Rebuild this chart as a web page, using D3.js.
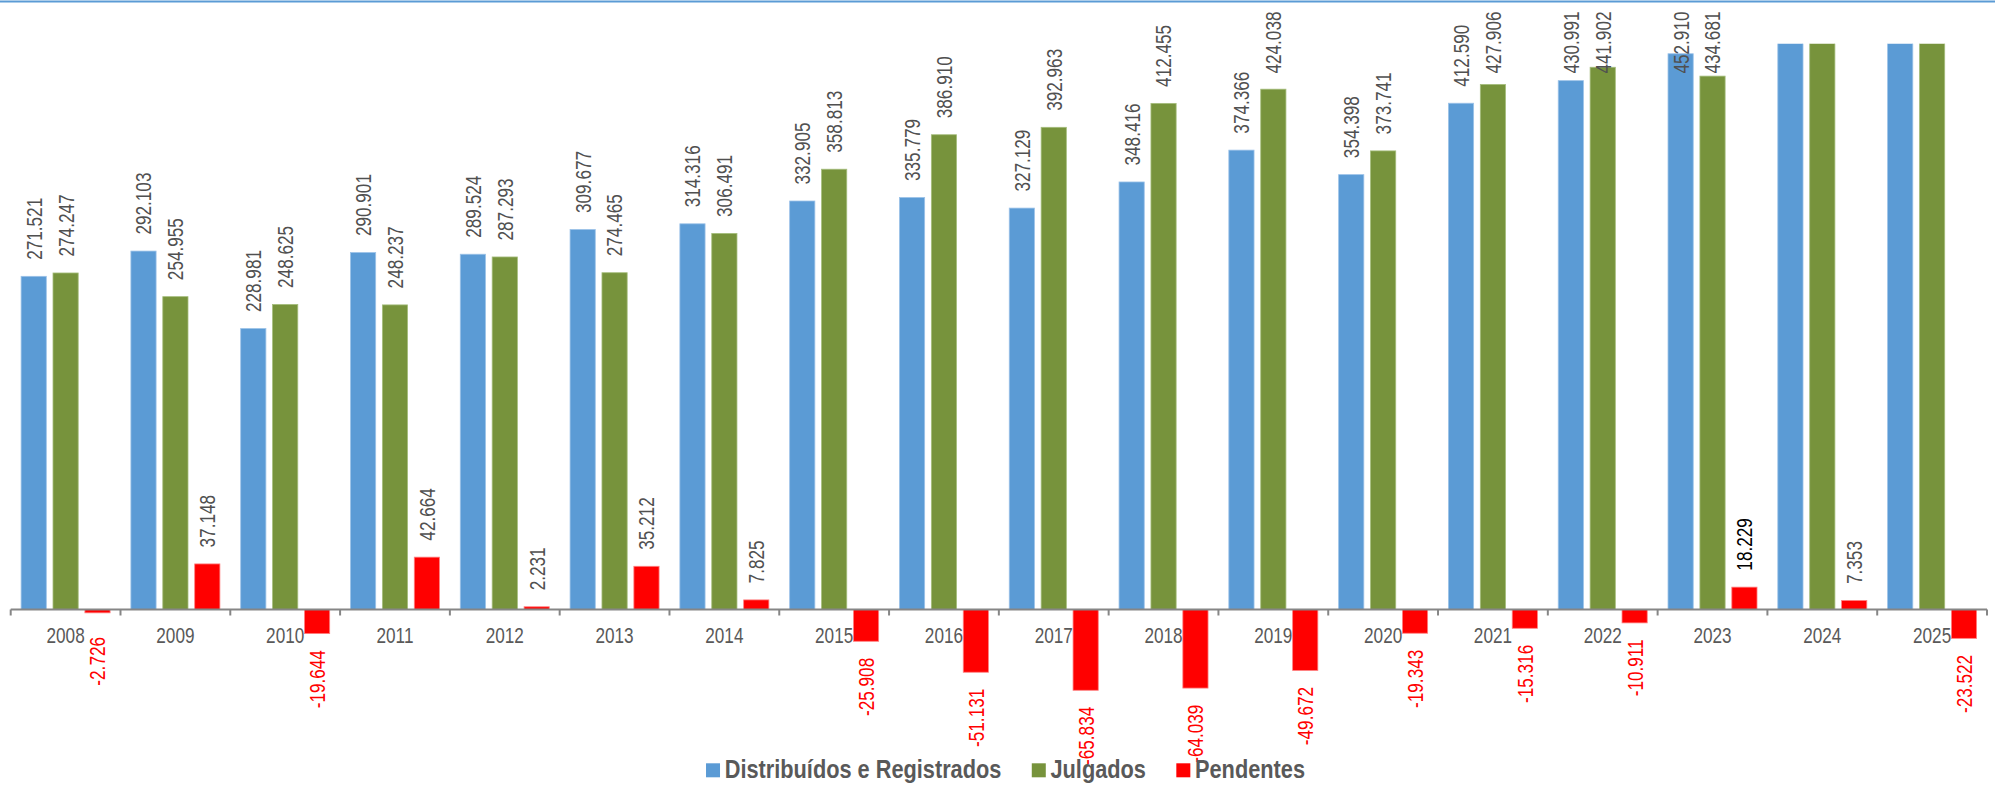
<!DOCTYPE html>
<html>
<head>
<meta charset="utf-8">
<script src="https://cdn.jsdelivr.net/npm/d3@7"></script>
<style>
  html, body { margin: 0; padding: 0; background: #fff; }
  svg { display: block; }
  text { font-family: 'Liberation Sans', Arial, sans-serif; }
</style>
</head>
<body>
<svg id="chart" width="1995" height="786"></svg>
<script>
// ---- data ----
const years = ["2008","2009","2010","2011","2012","2013","2014","2015","2016","2017","2018","2019","2020","2021","2022","2023","2024","2025"];
const seriesNames = ["Distribuídos e Registrados", "Julgados", "Pendentes"];
// 2024 and 2025 Distribuídos/Julgados exceed the chart's top and are cut off (values estimated)
const distribuidos = [271521, 292103, 228981, 290901, 289524, 309677, 314316, 332905, 335779, 327129, 348416, 374366, 354398, 412590, 430991, 452910, 489118, 482906];
const julgados     = [274247, 254955, 248625, 248237, 287293, 274465, 306491, 358813, 386910, 392963, 412455, 424038, 373741, 427906, 441902, 434681, 481765, 506428];
const pendentes    = [-2726, 37148, -19644, 42664, 2231, 35212, 7825, -25908, -51131, -65834, -64039, -49672, -19343, -15316, -10911, 18229, 7353, -23522];
const seriesValues = [distribuidos, julgados, pendentes];

// ---- styles ----
const colors = ["#5b9bd5", "#77933c", "#ff0000"];
const strokes = ["#9cc2e8", "#a5bd7c", "#ff8080"];
const NARROW = 0.78;

const svg = d3.select("#chart");
const W = 1995, H = 786;

// top border line
svg.append("line").attr("x1", 0).attr("x2", W).attr("y1", 1.5).attr("y2", 1.5)
  .attr("stroke", "#5b9bd5").attr("stroke-width", 2.2);

const plotTop = 43.7;
const y = d3.scaleLinear().domain([0, 461100]).range([609.5, plotTop]);
const x0 = d3.scaleBand().domain(years).range([10.7, 1987]).paddingInner(0).paddingOuter(0);
const x1 = d3.scaleBand().domain(d3.range(3)).range([10.4, 99.4]).paddingInner(0.21).paddingOuter(0);

const fmt0 = d3.formatLocale({decimal: ",", thousands: ".", grouping: [3], currency: ["R$", ""], minus: "-"}).format(",d");
const fmt = v => fmt0(v).replace("\u2212", "-");

svg.append("clipPath").attr("id", "plotclip").append("rect")
  .attr("x", 0).attr("y", plotTop).attr("width", W).attr("height", H - plotTop);

const rows = [];
years.forEach((yr, i) => {
  seriesValues.forEach((arr, s) => rows.push({year: yr, s, v: arr[i]}));
});

// bars
svg.append("g").attr("clip-path", "url(#plotclip)")
  .selectAll("rect").data(rows).join("rect")
  .attr("x", d => x0(d.year) + x1(d.s))
  .attr("width", x1.bandwidth())
  .attr("y", d => Math.min(y(d.v), y(0)))
  .attr("height", d => Math.abs(y(d.v) - y(0)))
  .attr("fill", d => colors[d.s])
  .attr("stroke", d => strokes[d.s])
  .attr("stroke-width", 0.8);

// axis
const axis = d3.axisBottom(x0).tickSize(0).tickPadding(0);
const gAxis = svg.append("g").attr("transform", `translate(0,${y(0)})`).call(axis);
gAxis.select(".domain").remove();
gAxis.selectAll(".tick text")
  .attr("y", null).attr("dy", null)
  .attr("transform", `translate(0,33.2) scale(${NARROW},1)`)
  .attr("font-size", 22)
  .attr("font-family", "'Liberation Sans', Arial, sans-serif")
  .attr("fill", "#595959");
svg.append("line").attr("x1", x0.range()[0]).attr("x2", x0.range()[1])
  .attr("y1", y(0)).attr("y2", y(0))
  .attr("stroke", "#868686").attr("stroke-width", 2);
const boundaries = years.map(yr => x0(yr)).concat([x0.range()[1]]);
svg.append("g").selectAll("line").data(boundaries).join("line")
  .attr("x1", d => d).attr("x2", d => d)
  .attr("y1", y(0)).attr("y2", y(0) + 6)
  .attr("stroke", "#868686").attr("stroke-width", 2);

// value labels
const gap = 16.5, labelTopMin = 11.5, negTopMin = 637;
const gLab = svg.append("g");
rows.filter(d => d.v <= y.domain()[1]).forEach(d => {
  const cx = x0(d.year) + x1(d.s) + x1.bandwidth() / 2;
  const t = gLab.append("text")
    .attr("font-size", 22)
    .attr("dy", "0.36em")
    .text(fmt(d.v));
  const len = t.node().getComputedTextLength() * NARROW;
  if (d.v >= 0) {
    let bottom = y(d.v) - gap;
    if (bottom - len < labelTopMin) bottom = labelTopMin + len;
    t.attr("text-anchor", "start")
     .attr("transform", `translate(${cx},${bottom}) rotate(-90) scale(${NARROW},1)`)
     .attr("fill", (d.s === 2 && d.year === "2023") ? "#000000" : "#505050");
  } else {
    const top = Math.max(y(d.v) + gap, negTopMin);
    t.attr("text-anchor", "end")
     .attr("transform", `translate(${cx},${top}) rotate(-90) scale(${NARROW},1)`)
     .attr("fill", "#ff0000");
  }
});

// legend
const LEG_NARROW = 0.87;
const gLeg = svg.append("g");
const legendBase = 778.3, box = 14, textGap = 4.7, itemGap = 30.4;
const items = seriesNames.map((name, i) => {
  const g = gLeg.append("g");
  g.append("rect").attr("width", box).attr("height", 14).attr("y", 763.3)
    .attr("fill", colors[i]);
  const t = g.append("text")
    .attr("transform", `translate(${box + textGap},${legendBase}) scale(${LEG_NARROW},1)`)
    .attr("font-size", 25).attr("font-weight", "bold").attr("fill", "#595959")
    .text(name);
  return {g, w: box + textGap + t.node().getComputedTextLength() * LEG_NARROW};
});
const totalW = d3.sum(items, d => d.w) + itemGap * (items.length - 1);
let lx = 1005.5 - totalW / 2;
items.forEach(it => { it.g.attr("transform", `translate(${lx},0)`); lx += it.w + itemGap; });
</script>
</body>
</html>
